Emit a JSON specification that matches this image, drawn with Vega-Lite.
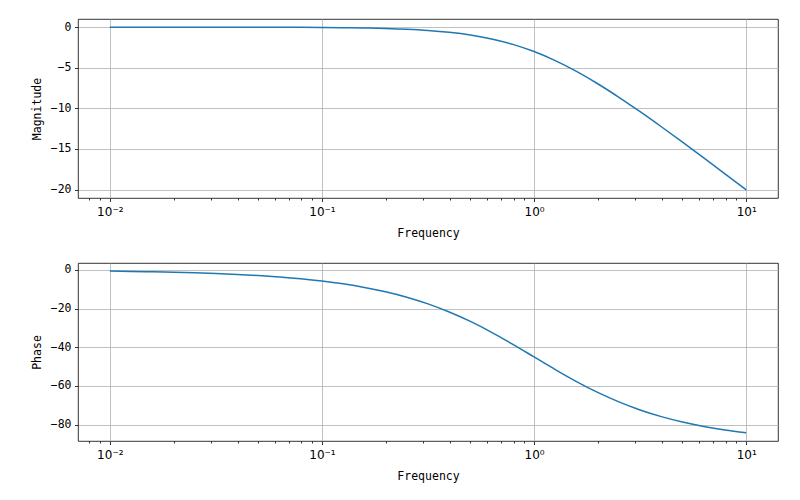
{
  "$schema": "https://vega.github.io/schema/vega-lite/v6.json",
  "padding": {"left": 30, "top": 18, "right": 22, "bottom": 10},
  "background": "white",
  "bounds": "flush",
  "spacing": 65,
  "config": {
    "font": "DejaVu Sans Mono",
    "view": {"stroke": "black", "strokeWidth": 0.8},
    "axis": {
      "labelFont": "DejaVu Sans Mono",
      "titleFont": "DejaVu Sans Mono",
      "labelFontSize": 11.5,
      "titleFontSize": 11.5,
      "labelColor": "black",
      "titleColor": "black",
      "titleFontWeight": "normal",
      "domain": false,
      "tickColor": "black",
      "tickWidth": 0.8,
      "tickSize": 3.5,
      "labelPadding": 3.5,
      "gridColor": "#b0b0b0",
      "gridWidth": 0.8
    }
  },
  "data": {"values": [
    {"f": 0.01, "mag": -0.000434, "phase": -0.573},
    {"f": 0.012589, "mag": -0.000688, "phase": -0.7213},
    {"f": 0.015849, "mag": -0.00109, "phase": -0.908},
    {"f": 0.019953, "mag": -0.00173, "phase": -1.1431},
    {"f": 0.025119, "mag": -0.00274, "phase": -1.4389},
    {"f": 0.031623, "mag": -0.00434, "phase": -1.8112},
    {"f": 0.039811, "mag": -0.00688, "phase": -2.2798},
    {"f": 0.050119, "mag": -0.01089, "phase": -2.8692},
    {"f": 0.063096, "mag": -0.01725, "phase": -3.6104},
    {"f": 0.079433, "mag": -0.02732, "phase": -4.5417},
    {"f": 0.1, "mag": -0.04321, "phase": -5.7106},
    {"f": 0.125893, "mag": -0.06829, "phase": -7.1758},
    {"f": 0.158489, "mag": -0.1077, "phase": -9.0056},
    {"f": 0.199526, "mag": -0.1695, "phase": -11.284},
    {"f": 0.251189, "mag": -0.266, "phase": -14.1},
    {"f": 0.316228, "mag": -0.4139, "phase": -17.548},
    {"f": 0.398107, "mag": -0.6389, "phase": -21.73},
    {"f": 0.501187, "mag": -0.9732, "phase": -26.627},
    {"f": 0.630957, "mag": -1.4554, "phase": -32.256},
    {"f": 0.794328, "mag": -2.1244, "phase": -38.466},
    {"f": 1.0, "mag": -3.0103, "phase": -45.0},
    {"f": 1.258925, "mag": -4.1246, "phase": -51.534},
    {"f": 1.584893, "mag": -5.4555, "phase": -57.744},
    {"f": 1.995262, "mag": -6.9732, "phase": -63.373},
    {"f": 2.511886, "mag": -8.6389, "phase": -68.27},
    {"f": 3.162278, "mag": -10.4139, "phase": -72.452},
    {"f": 3.981072, "mag": -12.266, "phase": -75.9},
    {"f": 5.011872, "mag": -14.1695, "phase": -78.716},
    {"f": 6.309573, "mag": -16.1077, "phase": -80.994},
    {"f": 7.943282, "mag": -18.0683, "phase": -82.824},
    {"f": 10.0, "mag": -20.0432, "phase": -84.289}
  ]},
  "vconcat": [
    {
      "width": 700,
      "height": 179,
      "mark": {"type": "line", "color": "#1f77b4", "strokeWidth": 1.5, "interpolate": "monotone"},
      "encoding": {
        "x": {
          "field": "f", "type": "quantitative",
          "scale": {"type": "log", "domain": [0.007079, 14.125], "nice": false},
          "axis": {
            "title": "Frequency",
            "titlePadding": 10,
            "labelPadding": 4.5,
            "values": [0.008, 0.009, 0.01, 0.02, 0.03, 0.04, 0.05, 0.06, 0.07, 0.08, 0.09, 0.1, 0.2, 0.3, 0.4, 0.5, 0.6, 0.7, 0.8, 0.9, 1, 2, 3, 4, 5, 6, 7, 8, 9, 10],
            "labelOverlap": false,
            "labelFlush": false,
            "labelFont": "DejaVu Sans",
            "labelFontSize": 12,
            "labelExpr": "abs(log(datum.value)/LN10 - round(log(datum.value)/LN10)) < 1e-6 ? (round(log(datum.value)/LN10) == -2 ? '10⁻²' : round(log(datum.value)/LN10) == -1 ? '10⁻¹' : round(log(datum.value)/LN10) == 0 ? '10⁰' : '10¹') : ''",
            "tickSize": {"condition": {"test": "abs(log(datum.value)/LN10 - round(log(datum.value)/LN10)) < 1e-6", "value": 3.5}, "value": 2},
            "gridOpacity": {"condition": {"test": "abs(log(datum.value)/LN10 - round(log(datum.value)/LN10)) < 1e-6", "value": 1}, "value": 0}
          }
        },
        "y": {
          "field": "mag", "type": "quantitative",
          "scale": {"domain": [-21.04, 1.0], "nice": false, "zero": false},
          "axis": {"title": "Magnitude", "values": [-20, -15, -10, -5, 0], "minExtent": 28, "maxExtent": 28, "titlePadding": 8}
        }
      }
    },
    {
      "width": 700,
      "height": 178,
      "mark": {"type": "line", "color": "#1f77b4", "strokeWidth": 1.5, "interpolate": "monotone"},
      "encoding": {
        "x": {
          "field": "f", "type": "quantitative",
          "scale": {"type": "log", "domain": [0.007079, 14.125], "nice": false},
          "axis": {
            "title": "Frequency",
            "titlePadding": 10,
            "labelPadding": 4.5,
            "values": [0.008, 0.009, 0.01, 0.02, 0.03, 0.04, 0.05, 0.06, 0.07, 0.08, 0.09, 0.1, 0.2, 0.3, 0.4, 0.5, 0.6, 0.7, 0.8, 0.9, 1, 2, 3, 4, 5, 6, 7, 8, 9, 10],
            "labelOverlap": false,
            "labelFlush": false,
            "labelFont": "DejaVu Sans",
            "labelFontSize": 12,
            "labelExpr": "abs(log(datum.value)/LN10 - round(log(datum.value)/LN10)) < 1e-6 ? (round(log(datum.value)/LN10) == -2 ? '10⁻²' : round(log(datum.value)/LN10) == -1 ? '10⁻¹' : round(log(datum.value)/LN10) == 0 ? '10⁰' : '10¹') : ''",
            "tickSize": {"condition": {"test": "abs(log(datum.value)/LN10 - round(log(datum.value)/LN10)) < 1e-6", "value": 3.5}, "value": 2},
            "gridOpacity": {"condition": {"test": "abs(log(datum.value)/LN10 - round(log(datum.value)/LN10)) < 1e-6", "value": 1}, "value": 0}
          }
        },
        "y": {
          "field": "phase", "type": "quantitative",
          "scale": {"domain": [-88.5, 3.62], "nice": false, "zero": false},
          "axis": {"title": "Phase", "values": [-80, -60, -40, -20, 0], "minExtent": 28, "maxExtent": 28, "titlePadding": 8}
        }
      }
    }
  ]
}
